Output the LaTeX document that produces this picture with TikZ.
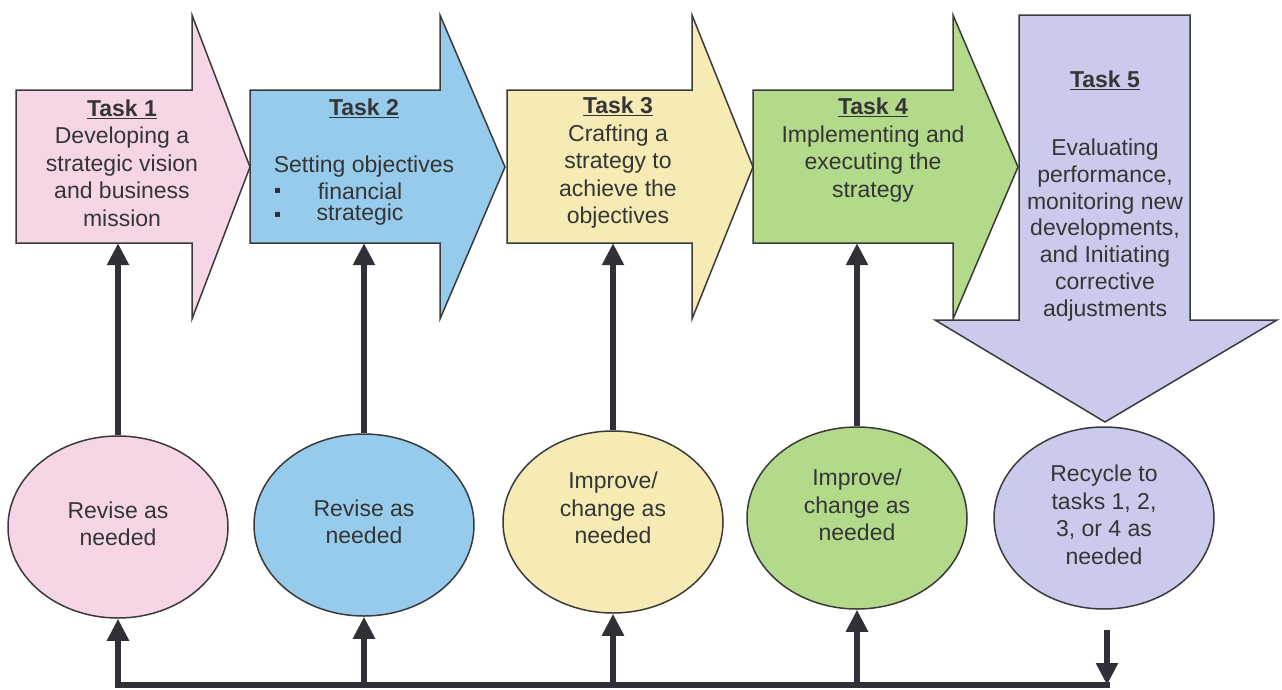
\documentclass[tikz,border=0pt]{standalone}
\usepackage{fontspec}
\setmainfont{Liberation Sans}
\usetikzlibrary{shapes.geometric,arrows.meta,calc}

\definecolor{pinkf}{HTML}{F6D6E6}
\definecolor{bluef}{HTML}{96CBEC}
\definecolor{yellowf}{HTML}{F7EBB5}
\definecolor{greenf}{HTML}{B3D98A}
\definecolor{lavf}{HTML}{CACBEC}
\definecolor{linec}{HTML}{3A3A3A}
\definecolor{txt}{HTML}{353535}
\definecolor{arr}{HTML}{303038}

\tikzset{
  shapeline/.style={draw=linec, line width=1.5pt, line join=miter},
  lab/.style={text=txt, align=center, inner sep=0pt,
              font=\fontsize{23}{27.5}\selectfont},
  bodybox/.style={inner sep=0pt, minimum width=#1, minimum height=153pt},
  bubble/.style={ellipse, draw=linec, line width=1.5pt, inner sep=0pt,
                 minimum width=220pt, minimum height=182pt},
  flow/.style={draw=arr, line width=6pt, line join=miter,
               -{Triangle[width=21pt,length=22pt]}},
}
\newcommand{\tasktitle}[1]{\underline{\textbf{#1}}}

\begin{document}
\begin{tikzpicture}[x=1pt, y=-1pt]
\useasboundingbox (0,0) rectangle (1282,689);

% task arrows 1-4 (pointing right) and task 5 (pointing down)
\draw[shapeline, fill=pinkf]
  (16,90) -- (192,90) -- (192,15) -- (250,167) -- (192,319) -- (192,243) -- (16,243) -- cycle;
\draw[shapeline, fill=bluef]
  (250,90) -- (440,90) -- (440,15) -- (505,167) -- (440,319) -- (440,243) -- (250,243) -- cycle;
\draw[shapeline, fill=yellowf]
  (507,90) -- (692,90) -- (692,15) -- (753,167) -- (692,319) -- (692,243) -- (507,243) -- cycle;
\draw[shapeline, fill=greenf]
  (753,90) -- (953,90) -- (953,15) -- (1018,167) -- (953,319) -- (953,243) -- (753,243) -- cycle;
\draw[shapeline, fill=lavf]
  (1019,15) -- (1190,15) -- (1190,320) -- (1277,320) -- (1105,422) -- (935,320) -- (1019,320) -- cycle;

% rectangular bodies of the right-pointing arrows
\node[bodybox=176pt] (b1) at (104,166.5) {};
\node[bodybox=190pt] (b2) at (345,166.5) {};
\node[bodybox=185pt] (b3) at (599.5,166.5) {};
\node[bodybox=200pt] (b4) at (853,166.5) {};

% task texts
\node[lab] (t1) at (122,163) {\tasktitle{Task 1}\\Developing a\\strategic vision\\and business\\mission};
\node[lab] (t2) at (364,108) {\tasktitle{Task 2}};
\node[lab] (t2a) at (364,167) {Setting objectives};
\node[lab] (t2b) at (360,191) {financial};
\node[lab] (t2c) at (360,215) {strategic};
\fill[arr] (274.5,187.5) rectangle (279.5,192.5);
\fill[arr] (274.5,211.5) rectangle (279.5,216.5);
\node[lab] (t3) at (618,163) {\tasktitle{Task 3}\\Crafting a\\strategy to\\achieve the\\objectives};
\node[lab] (t4) at (873,150) {\tasktitle{Task 4}\\Implementing and\\executing the\\strategy};
\node[lab] (t5) at (1105,80) {\tasktitle{Task 5}};
\node[lab, font=\fontsize{23}{26.7}\selectfont] (t5a) at (1105,230)
  {Evaluating\\performance,\\monitoring new\\developments,\\and Initiating\\corrective\\adjustments};

% feedback circles
\node[bubble, fill=pinkf] (c1) at (118,527) {};
\node[bubble, fill=bluef] (c2) at (364,525) {};
\node[bubble, fill=yellowf] (c3) at (613,522) {};
\node[bubble, fill=greenf] (c4) at (857,518) {};
\node[bubble, fill=lavf] (c5) at (1104,518) {};

\node[lab] (r1) at (118,524) {Revise as\\needed};
\node[lab] (r2) at (364,522) {Revise as\\needed};
\node[lab] (r3) at (613,508) {Improve/\\change as\\needed};
\node[lab] (r4) at (857,505) {Improve/\\change as\\needed};
\node[lab] (r5) at (1104,515) {Recycle to\\tasks 1, 2,\\3, or 4 as\\needed};

% circles feed back into their tasks
\draw[flow] (c1.north) -- (c1.north |- b1.south);
\draw[flow] (c2.north) -- (c2.north |- b2.south);
\draw[flow] (c3.north) -- (c3.north |- b3.south);
\draw[flow] (c4.north) -- (c4.north |- b4.south);

% recycle bus along the bottom
\coordinate (busR) at (1110,685);
\coordinate (drop) at ($(c5.south)+(3,20)$);
\draw[flow] (busR) -- (c1.south |- busR) -- (c1.south);
\draw[flow] (c2.south |- busR) -- (c2.south);
\draw[flow] (c3.south |- busR) -- (c3.south);
\draw[flow] (c4.south |- busR) -- (c4.south);
\draw[flow] (drop) -- (drop |- busR);
\end{tikzpicture}
\end{document}
